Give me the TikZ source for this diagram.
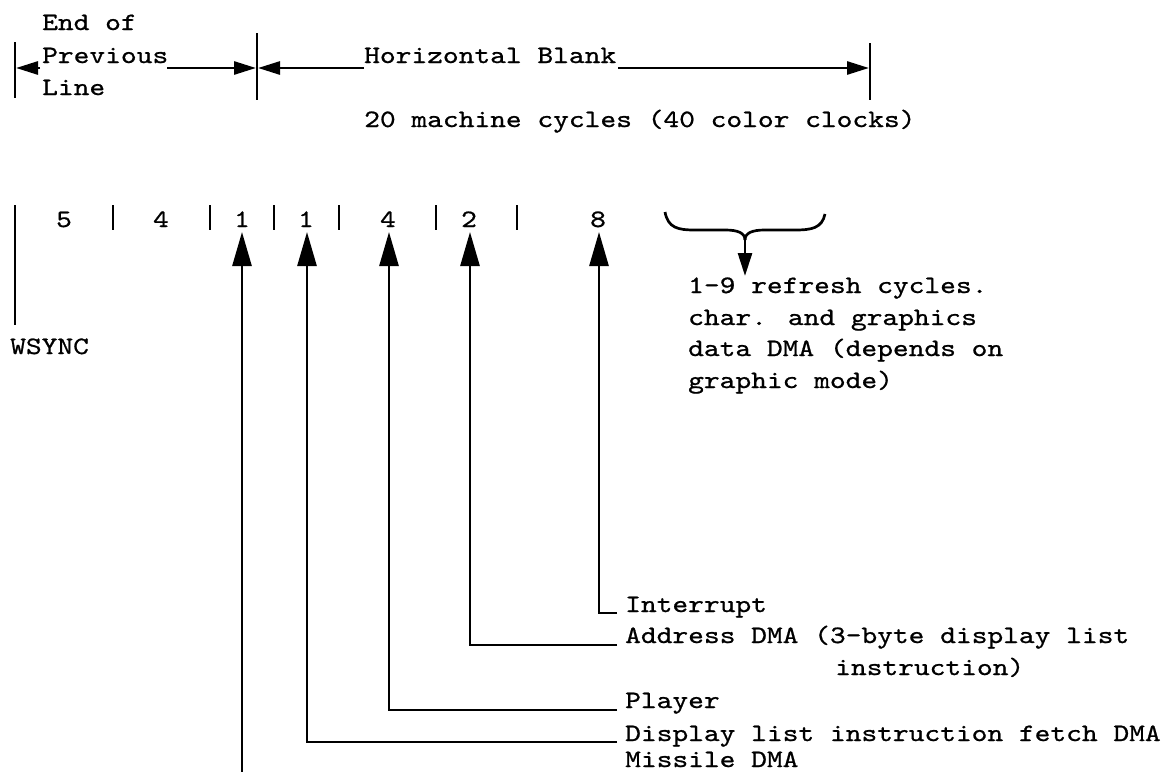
\documentclass[tikz,border=0pt]{standalone}
\usepackage{fontspec}
\newfontfamily\tw{lmmono10-regular.otf}[FakeStretch=1.2, FakeBold=0.8]
\usetikzlibrary{arrows.meta}
\begin{document}
\begin{tikzpicture}[x=1pt,y=-1pt,
  txt/.style={font=\tw\fontsize{25}{32}\selectfont, inner sep=0pt, anchor=base west},
  num/.style={font=\tw\fontsize{25}{32}\selectfont, inner sep=0pt, anchor=base},
  ln/.style={line width=2.7pt},
  tk/.style={line width=2.2pt},
  toparr/.style={ln, -{Triangle[length=22pt,width=13pt]}},
  uparr/.style={ln, -{Triangle[length=34pt,width=19pt]}},
  bracearr/.style={ln, -{Triangle[length=23pt,width=14pt]}},
  ]
\useasboundingbox (0,0) rectangle (1175,771);
\fill[white] (0,0) rectangle (1175,771);
% ---------- top section ----------
\node[txt] (eo) at (42,30) {End of};
\node[txt] (pv) at (42,63) {Previous};
\node[txt] (li) at (42,95) {Line};
\node[txt] (hb) at (364,63) {Horizontal Blank};
\node[txt] (mc) at (364,127) {20 machine cycles (40 color clocks)};
\coordinate (LBt) at (15,42);  \coordinate (LBb) at (15,98);
\coordinate (MBt) at (257,33); \coordinate (MBb) at (257,100);
\coordinate (RBt) at (870,43); \coordinate (RBb) at (870,100);
\draw[ln] (LBt) -- (LBb);
\draw[ln] (MBt) -- (MBb);
\draw[ln] (RBt) -- (RBb);
\coordinate (p0s) at (40,68);  \coordinate (p0e) at (16,68);
\coordinate (p1s) at (167,68); \coordinate (p1e) at (256,68);
\coordinate (h0s) at (364,68); \coordinate (h0e) at (258,68);
\coordinate (h1s) at (618,68); \coordinate (h1e) at (869,68);
\draw[toparr] (p0s) -- (p0e);
\draw[toparr] (p1s) -- (p1e);
\draw[toparr] (h0s) -- (h0e);
\draw[toparr] (h1s) -- (h1e);
% ---------- cycle row ----------
\coordinate (WBt) at (15,205); \coordinate (WBb) at (15,325);
\draw[ln] (WBt) -- (WBb);
\node[txt] (ws) at (10,354) {WSYNC};
\foreach \x [count=\i] in {113,210,274,339,436,517}{
  \coordinate (t\i a) at (\x,205); \coordinate (t\i b) at (\x,230);
  \draw[tk] (t\i a) -- (t\i b);
}
\node[num] (n1) at (64,227) {5};
\node[num] (n2) at (161,227) {4};
\node[num] (n3) at (242,227) {1};
\node[num] (n4) at (306,227) {1};
\node[num] (n5) at (388,227) {4};
\node[num] (n6) at (469,227) {2};
\node[num] (n7) at (598,227) {8};
% ---------- brace ----------
\coordinate (brL) at (665,212);
\coordinate (brR) at (825,214);
\coordinate (brC) at (745,240);
\coordinate (brT) at (745,276);
\draw[ln] (brL) .. controls (668,228) and (678,230) .. (695,230) -- (725,230)
  .. controls (738,230) and (745,233) .. (brC);
\draw[ln] (brR) .. controls (822,228) and (812,230) .. (795,230) -- (765,230)
  .. controls (752,230) and (745,233) .. (brC);
\draw[bracearr] (brC) -- (brT);
\node[txt] (r1) at (688,293) {1-9 refresh cycles.};
\node[txt] (r2) at (688,325) {char. and graphics};
\node[txt] (r3) at (688,356) {data DMA (depends on};
\node[txt] (r4) at (688,388) {graphic mode)};
% ---------- bottom labels ----------
\node[txt] (lInt) at (625,612) {Interrupt};
\node[txt] (lAdr) at (625,643) {Address DMA (3-byte display list};
\node[txt] (lIns) at (835,675) {instruction)};
\node[txt] (lPl)  at (625,708) {Player};
\node[txt] (lDl)  at (625,741) {Display list instruction fetch DMA};
\node[txt] (lMs)  at (625,767) {Missile DMA};
% ---------- arrows ----------
\coordinate (a1s) at (242,775); \coordinate (a1t) at (242,232);
\draw[uparr] (a1s) -- (a1t);
\coordinate (a2s) at (617,742); \coordinate (a2c) at (307,742); \coordinate (a2t) at (307,232);
\draw[uparr] (a2s) -- (a2c) -- (a2t);
\coordinate (a3s) at (617,710); \coordinate (a3c) at (389,710); \coordinate (a3t) at (389,232);
\draw[uparr] (a3s) -- (a3c) -- (a3t);
\coordinate (a4s) at (617,645); \coordinate (a4c) at (470,645); \coordinate (a4t) at (470,232);
\draw[uparr] (a4s) -- (a4c) -- (a4t);
\coordinate (a5s) at (617,613); \coordinate (a5c) at (599,613); \coordinate (a5t) at (599,232);
\draw[uparr] (a5s) -- (a5c) -- (a5t);
\end{tikzpicture}
\end{document}
